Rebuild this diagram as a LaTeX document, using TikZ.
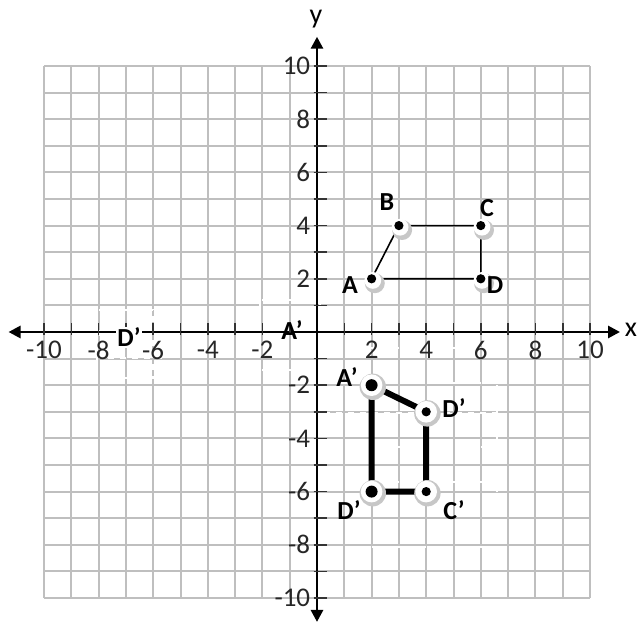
\documentclass[tikz,border=0pt]{standalone}
\usepackage{fontspec}
\setmainfont{Carlito}
\usetikzlibrary{arrows.meta}
\begin{document}
\begin{tikzpicture}[x=0.5pt,y=-0.5pt,
  gridline/.style={draw=black!25,line width=1pt},
  axisline/.style={draw=black,line width=1.4pt},
  tickline/.style={draw=black!80,line width=0.8pt},
  num/.style={font=\fontsize{13.5}{15}\selectfont,text=black!85,inner sep=0.5pt},
  ptlabel/.style={font=\bfseries\fontsize{13}{15}\selectfont,inner sep=0.5pt},
  axlabel/.style={font=\fontsize{14}{16}\selectfont,inner sep=0pt},
  patch/.style={draw=white,dashed,line width=0.6pt},
  thinside/.style={draw=black,line width=0.8pt},
  thickside/.style={draw=black,line width=3pt}]
\useasboundingbox (0,0) rectangle (637,625);
\begin{scope}[shift={(317,332)},x=13.65pt,y=13.3pt]
  % grid
  \draw[gridline,step={(1,1)}] (-10,-10) grid (10,10);
\end{scope}
% white editing patches
\draw[patch] (97,310) rectangle (153,378);
\draw[patch] (100,330) rectangle (167,358);
\draw[patch] (260,300) rectangle (320,370);
\draw[patch] (317,348) rectangle (497,413);
\draw[patch] (317,383) rectangle (497,447);
\draw[patch] (317,482) rectangle (497,547);
\begin{scope}[shift={(317,332)},x=13.65pt,y=13.3pt]
  % axes
  \coordinate (xl) at (-11.3,0);
  \coordinate (xr) at (11.1,0);
  \coordinate (yt) at (0,11.1);
  \coordinate (yb) at (0,-10.9);
  \draw[axisline,{Triangle[length=6pt,width=6pt]}-{Triangle[length=6pt,width=6pt]}] (xl) -- (xr);
  \draw[axisline,{Triangle[length=6pt,width=6pt]}-{Triangle[length=6pt,width=6pt]}] (yb) -- (yt);
  \foreach \i in {-10,...,-1,1,2,...,10} {
    \draw[tickline] (\i,-0.1) -- (\i,0.35);
    \draw[tickline] (-0.12,\i) -- (0.35,\i);
  }
  \foreach \i in {-10,-8,...,-2,2,4,...,10} {
    \node[num] (xn\i) at (\i,-0.68) {\i};
    \node[num,anchor=east] (yn\i) at (-0.2,\i) {\i};
  }
  \node[axlabel] (xlab) at (11.5,0.1) {x};
  \node[axlabel] (ylab) at (-0.04,11.75) {y};
  % original figure
  \coordinate (A) at (2,2);
  \coordinate (B) at (3,4);
  \coordinate (C) at (6,4);
  \coordinate (D) at (6,2);
  \draw[thinside] (A) -- (B) -- (C) -- (D) -- cycle;
  \foreach \p in {A,B,C,D} {
    \fill[black!22] ([shift={(1.6pt,-2.2pt)}]\p) circle (5pt);
    \fill[white] ([shift={(0.6pt,-0.8pt)}]\p) circle (4.2pt);
    \fill[black] (\p) circle (2.3pt);
  }
  \node[ptlabel] (lA) at (1.21,1.77) {A};
  \node[ptlabel] (lB) at (2.56,4.89) {B};
  \node[ptlabel] (lC) at (6.23,4.66) {C};
  \node[ptlabel] (lD) at (6.52,1.77) {D};
  % image figure
  \coordinate (Ap) at (2,-2);
  \coordinate (Dp) at (4,-3);
  \coordinate (Cp) at (4,-6);
  \coordinate (Dq) at (2,-6);
  \draw[thickside] (Ap) -- (Dp) -- (Cp) -- (Dq) -- cycle;
  \foreach \p/\r in {Ap/3pt,Dp/2.3pt,Cp/2.3pt,Dq/3pt} {
    \fill[black!22] ([shift={(0.6pt,-0.8pt)}]\p) circle (6.6pt);
    \fill[white] (\p) circle (5.4pt);
    \fill[black] (\p) circle (\r);
  }
  \node[ptlabel] (lAp) at (1.1,-1.69) {A’};
  \node[ptlabel] (lDp) at (5.02,-2.86) {D’};
  \node[ptlabel] (lCp) at (5.02,-6.69) {C’};
  \node[ptlabel] (lDq) at (1.17,-6.69) {D’};
  % stray labels near the x-axis
  \node[ptlabel,fill=white] (sD) at (-6.89,-0.19) {D’};
  \node[ptlabel] (sA) at (-0.92,0.08) {A’};
\end{scope}
\end{tikzpicture}
\end{document}
